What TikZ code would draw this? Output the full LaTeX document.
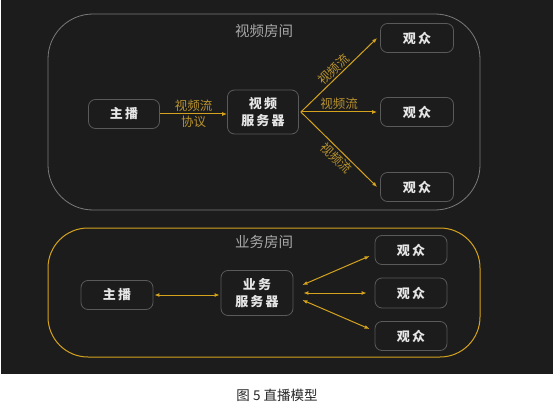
\documentclass[tikz,border=0pt]{standalone}
\usepackage{fontspec}
\setmainfont{Noto Sans CJK SC}
\usetikzlibrary{arrows.meta}
\definecolor{bgdark}{HTML}{1C1C1C}
\definecolor{boxline}{HTML}{5A5A5A}
\definecolor{roomgray}{HTML}{7A7A7A}
\definecolor{gold}{HTML}{D4A21C}
\definecolor{goldtext}{HTML}{B8922E}
\definecolor{nodetext}{HTML}{E6E6E6}
\definecolor{titletext}{HTML}{A8A8A8}
\tikzset{
  px/.style={x=1pt,y=-1pt},
  nbox/.style={draw=boxline, line width=0.8pt, rounded corners=7pt, text=nodetext, font=\fontsize{13}{17}\selectfont\bfseries, align=center, inner sep=0pt},
  roomtitle/.style={text=titletext, font=\fontsize{14.5}{16}\selectfont},
  flowlbl/.style={text=goldtext, font=\fontsize{12.5}{14}\selectfont, inner sep=1.5pt},
  flow/.style={draw=gold, line width=1pt, -{Latex[length=5pt,width=4pt]}},
  biflow/.style={draw=gold, line width=1pt, {Latex[length=5pt,width=4pt]}-{Latex[length=5pt,width=4pt]}},
}
\begin{document}
\begin{tikzpicture}[px]
\useasboundingbox (0,0) rectangle (553,406);
\fill[white] (0,0) rectangle (553,406);
\fill[bgdark] (1,0) rectangle (553,374);
% top room
\draw[roomgray, line width=0.8pt, rounded corners=45pt] (48,14) rectangle (480,210);
\node[roomtitle] (t1) at (264,31) {视频房间};
\node[nbox, minimum width=71pt, minimum height=29pt] (a1) at (124,114) {主\,播};
\node[nbox, minimum width=71pt, minimum height=44pt] (s1) at (263,112) {视\,频\\服\,务\,器};
\node[nbox, minimum width=73pt, minimum height=29pt] (v1) at (417,38) {观\,众};
\node[nbox, minimum width=73pt, minimum height=29pt] (v2) at (417,112) {观\,众};
\node[nbox, minimum width=73pt, minimum height=29pt] (v3) at (417,187) {观\,众};
\draw[flow] (a1.east) -- node[flowlbl, above] {视频流} node[flowlbl, below] {协议} (s1.west |- a1.east);
\coordinate (s1o) at ([xshift=2pt]s1.east);
\draw[flow] (s1o) -- node[flowlbl, sloped, above, pos=0.5] {视频流} ([xshift=-3pt]v1.west);
\draw[flow] (s1o) -- node[flowlbl, above, pos=0.5] {视频流} ([xshift=-3pt]v2.west);
\draw[flow] (s1o) -- node[flowlbl, sloped, below, pos=0.54] {视频流} ([xshift=-3pt]v3.west);
% bottom room
\draw[gold, line width=1pt, rounded corners=40pt] (48,228) rectangle (480,357);
\node[roomtitle] (t2) at (264,242) {业务房间};
\node[nbox, minimum width=72pt, minimum height=29pt] (a2) at (117,295) {主\,播};
\node[nbox, minimum width=72pt, minimum height=45pt] (s2) at (257,293) {业\,务\\服\,务\,器};
\node[nbox, minimum width=72pt, minimum height=29pt] (w1) at (411,250) {观\,众};
\node[nbox, minimum width=72pt, minimum height=30pt] (w2) at (411,293) {观\,众};
\node[nbox, minimum width=72pt, minimum height=29pt] (w3) at (411,336) {观\,众};
\draw[biflow] ([xshift=1pt]a2.east) -- ([xshift=-1pt]s2.west |- a2.east);
\draw[biflow] ([xshift=9pt,yshift=8pt]s2.east) -- ([xshift=-5pt,yshift=-6pt]w1.west);
\draw[biflow] ([xshift=10pt]s2.east) -- ([xshift=-8pt]w2.west);
\draw[biflow] ([xshift=9pt,yshift=-7pt]s2.east) -- ([xshift=-5pt,yshift=7pt]w3.west);
% caption
\node[text=black!85, font=\fontsize{13.5}{15}\selectfont] (cap) at (277,395) {图 5 直播模型};
\end{tikzpicture}
\end{document}
